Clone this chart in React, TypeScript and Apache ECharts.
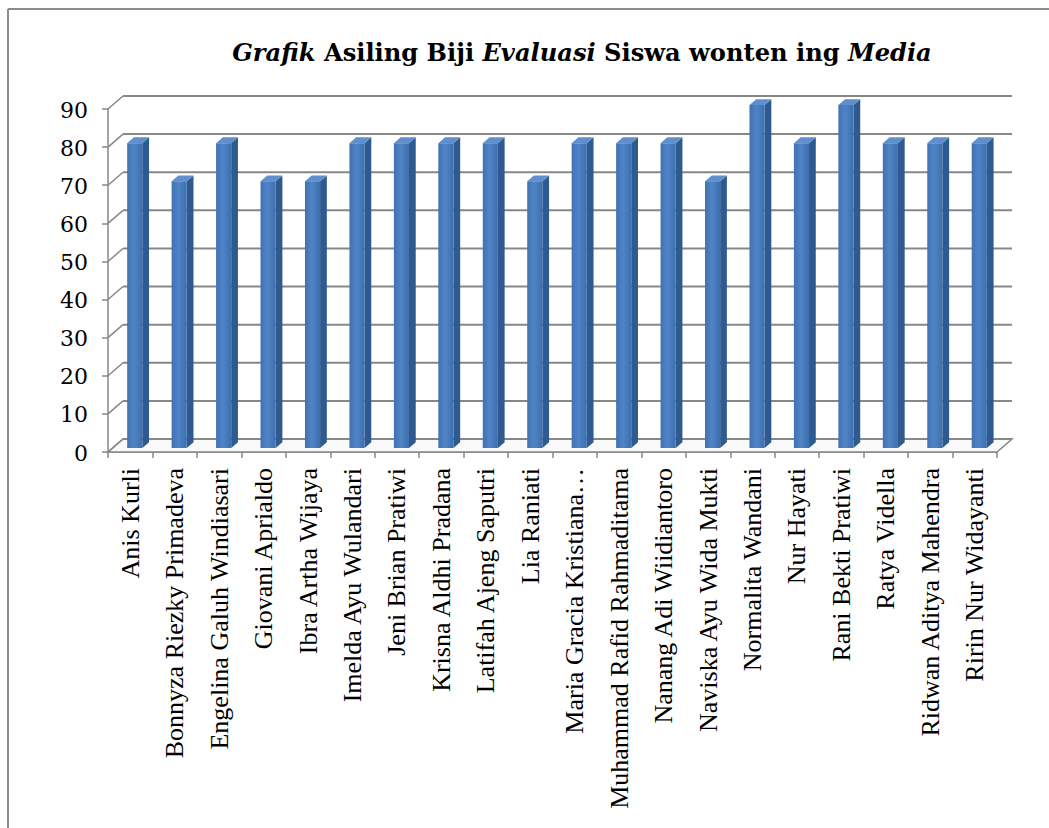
import React, { useEffect, useRef } from "react";
import * as echarts from "echarts";

const categories = [
  "Anis Kurli",
  "Bonnyza Riezky Primadeva",
  "Engelina Galuh Windiasari",
  "Giovani Aprialdo",
  "Ibra Artha Wijaya",
  "Imelda Ayu Wulandari",
  "Jeni Brian Pratiwi",
  "Krisna Aldhi Pradana",
  "Latifah Ajeng Saputri",
  "Lia Raniati",
  "Maria Gracia Kristiana…",
  "Muhammad Rafid Rahmaditama",
  "Nanang Adi Wiidiantoro",
  "Naviska Ayu Wida Mukti",
  "Normalita Wandani",
  "Nur Hayati",
  "Rani Bekti Pratiwi",
  "Ratya Vidella",
  "Ridwan Aditya Mahendra",
  "Ririn Nur Widayanti",
];

const scores = [80, 70, 80, 70, 70, 80, 80, 80, 80, 70, 80, 80, 80, 70, 90, 80, 90, 80, 80, 80];

const yTicks = [0, 10, 20, 30, 40, 50, 60, 70, 80, 90];

const titleParts: [string, boolean][] = [
  ["Grafik", true],
  [" Asiling Biji ", false],
  ["Evaluasi", true],
  [" Siswa wonten ing ", false],
  ["Media", true],
];

const FONT = "Liberation Serif";
const ALT_FONT = "DejaVu Serif";
const DX = 15;
const DY = -13;
const FRONT = 0.3;
const BACK = 0.75;
const GRID_COLOR = "#878787";

function buildTitle(cx: number, cy: number, targetWidth: number) {
  const canvas = document.createElement("canvas");
  const ctx = canvas.getContext("2d");
  const base = 30;
  const fontFor = (it: boolean, s: number) => (it ? "italic " : "") + "bold " + s + "px \"" + ALT_FONT + "\"";
  const measure = (s: number) =>
    titleParts.map(([t, it]) => {
      if (!ctx) return t.length * s * 0.5;
      ctx.font = fontFor(it, s);
      return ctx.measureText(t).width;
    });
  const w0 = measure(base).reduce((a, b) => a + b, 0);
  const size = Math.min(31, (base * targetWidth) / w0);
  const widths = measure(size);
  const total = widths.reduce((a, b) => a + b, 0);
  let x = cx - total / 2;
  return titleParts.map(([t, it], k) => {
    const el = {
      type: "text",
      x,
      y: cy,
      silent: true,
      style: {
        text: t,
        font: fontFor(it, size),
        fill: "#000",
        align: "left",
        verticalAlign: "middle",
      },
    };
    x += widths[k];
    return el;
  });
}

export default function App() {
  const ref = useRef<HTMLDivElement>(null);

  useEffect(() => {
    if (!ref.current) return;
    const chart = echarts.init(ref.current, null, { renderer: "svg" });

    const option: any = {
      animation: false,
      backgroundColor: "#ffffff",
      graphic: [
        { type: "line", shape: { x1: 8, y1: 9, x2: 1049, y2: 9 }, style: { stroke: "#8c8c8c", lineWidth: 2 } },
        { type: "line", shape: { x1: 8, y1: 9, x2: 8, y2: 828 }, style: { stroke: "#8c8c8c", lineWidth: 2 } },
        ...buildTitle(582, 52.5, 700),
      ],
      grid: { left: 108, right: 52, top: 109, bottom: 376 },
      xAxis: {
        type: "category",
        data: categories,
        boundaryGap: true,
        axisLine: { show: true, lineStyle: { color: GRID_COLOR, width: 1.5 } },
        axisTick: { show: true, length: 6, alignWithLabel: false, lineStyle: { color: GRID_COLOR, width: 1.5 } },
        axisLabel: {
          interval: 0,
          rotate: 90,
          margin: 16,
          fontFamily: FONT,
          fontSize: 26,
          color: "#000",
        },
        splitLine: { show: false },
      },
      yAxis: {
        type: "value",
        min: 0,
        max: 90,
        interval: 10,
        axisLine: { show: true, lineStyle: { color: GRID_COLOR, width: 1.5 } },
        axisTick: { show: true, length: 6, lineStyle: { color: GRID_COLOR, width: 1.5 } },
        axisLabel: { show: false },
        splitLine: { show: false },
      },
      series: [
        {
          type: "custom",
          name: "walls",
          clip: false,
          silent: true,
          z: 1,
          data: [[0, 0]],
          renderItem: (params: any, api: any) => {
            const band = api.size([1, 0])[0];
            const L = api.coord([0, 0])[0] - band / 2;
            const R = api.coord([categories.length - 1, 0])[0] + band / 2;
            const y0 = api.coord([0, 0])[1];
            const children: any[] = [];
            children.push({
              type: "polygon",
              shape: {
                points: [
                  [L, y0],
                  [R, y0],
                  [R + DX, y0 + DY],
                  [L + DX, y0 + DY],
                ],
              },
              style: { fill: "#f9f9f9", stroke: GRID_COLOR, lineWidth: 1.5 },
            });
            yTicks.forEach((v) => {
              const y = api.coord([0, v])[1];
              children.push({
                type: "line",
                shape: { x1: L, y1: y, x2: L + DX, y2: y + DY },
                style: { stroke: GRID_COLOR, lineWidth: 1.5 },
              });
              children.push({
                type: "line",
                shape: { x1: L + DX, y1: y + DY, x2: R + DX, y2: y + DY },
                style: { stroke: GRID_COLOR, lineWidth: 2 },
              });
              children.push({
                type: "text",
                x: L - 20,
                y: y + 1,
                style: {
                  text: String(v),
                  font: "22px \"" + ALT_FONT + "\"",
                  fill: "#000",
                  align: "right",
                  verticalAlign: "middle",
                },
              });
            });
            return { type: "group", children };
          },
        },
        {
          type: "custom",
          name: "Biji",
          clip: false,
          z: 5,
          data: scores.map((v, i) => [i, v]),
          encode: { x: 0, y: 1 },
          renderItem: (params: any, api: any) => {
            const idx = api.value(0);
            const val = api.value(1);
            const band = api.size([1, 0])[0];
            const w = band * 0.34;
            const top = api.coord([idx, val]);
            const base = api.coord([idx, 0]);
            const cx = top[0];
            const xl = cx - w / 2;
            const xr = cx + w / 2;
            const fx = FRONT * DX, fy = FRONT * DY;
            const bx = BACK * DX, by = BACK * DY;
            const yt = top[1];
            const yb = base[1];
            return {
              type: "group",
              children: [
                {
                  type: "polygon",
                  shape: {
                    points: [
                      [xr + fx, yt + fy],
                      [xr + bx, yt + by],
                      [xr + bx, yb + by],
                      [xr + fx, yb + fy],
                    ],
                  },
                  style: { fill: "#2f5a8f" },
                },
                {
                  type: "polygon",
                  shape: {
                    points: [
                      [xl + fx, yt + fy],
                      [xr + fx, yt + fy],
                      [xr + bx, yt + by],
                      [xl + bx, yt + by],
                    ],
                  },
                  style: { fill: "#5f8fcc" },
                },
                {
                  type: "rect",
                  shape: { x: xl + fx, y: yt + fy, width: w, height: yb - yt },
                  style: {
                    fill: new echarts.graphic.LinearGradient(0, 0, 1, 0, [
                      { offset: 0, color: "#3f72b3" },
                      { offset: 0.45, color: "#4f84c6" },
                      { offset: 1, color: "#3d6fae" },
                    ]),
                  },
                },
              ],
            };
          },
        },
      ],
    };

    chart.setOption(option);
    return () => chart.dispose();
  }, []);

  return (
    <div
      ref={ref}
      style={{ position: "fixed", left: 0, top: 0, width: "1049px", height: "828px" }}
    />
  );
}
